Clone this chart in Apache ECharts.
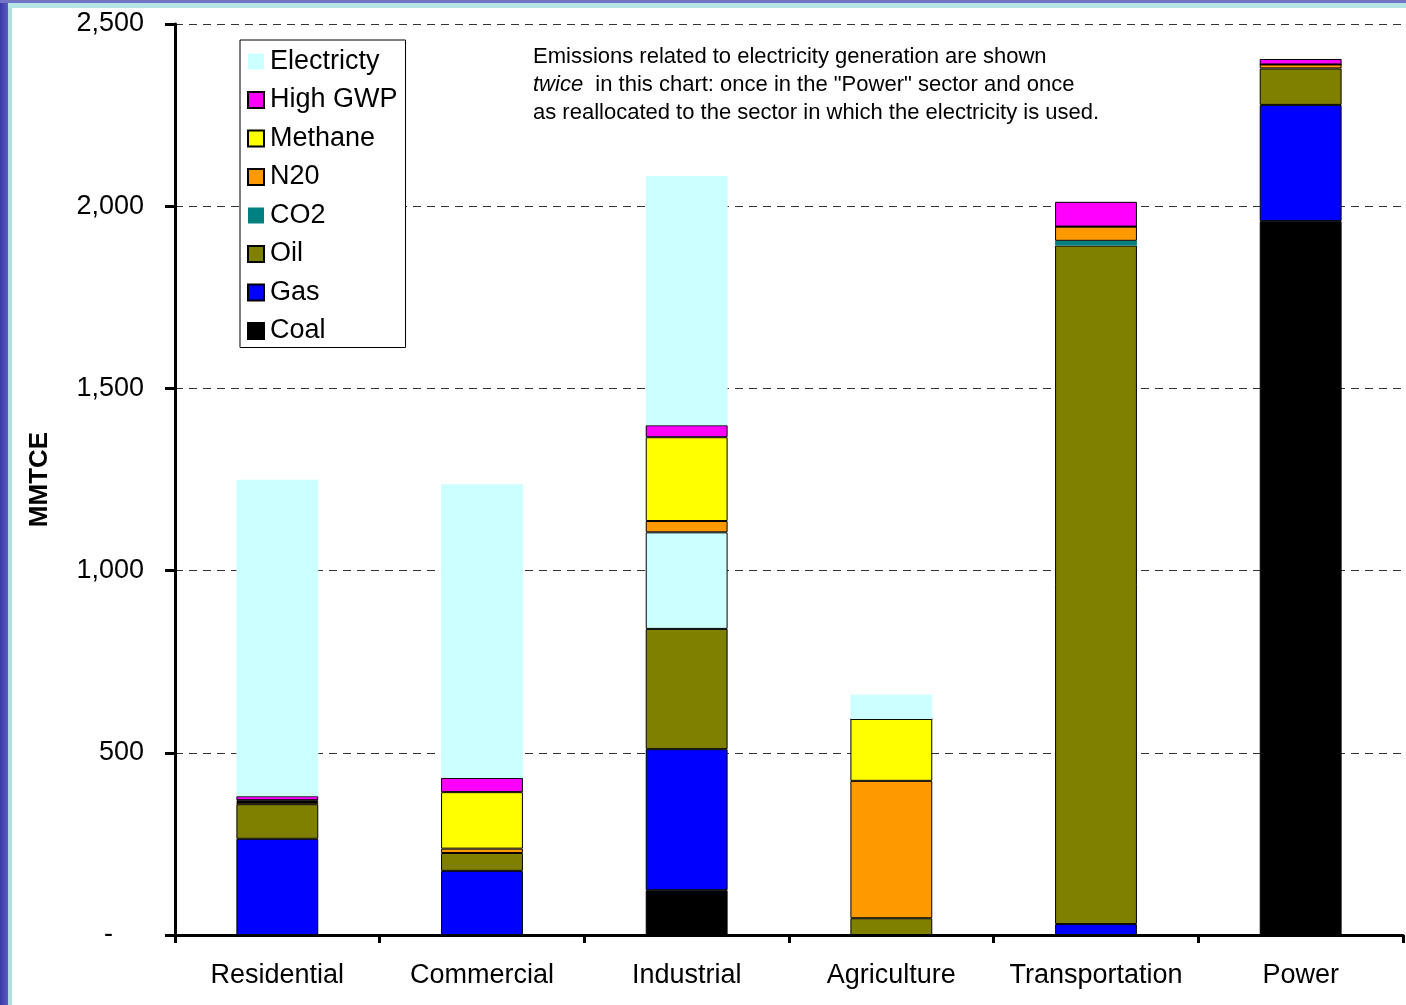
<!DOCTYPE html>
<html>
<head>
<meta charset="utf-8">
<script src="https://cdn.jsdelivr.net/npm/echarts@6/dist/echarts.min.js"></script>
<style>
html,body{margin:0;padding:0;background:#fff;}
#deco-l{position:absolute;left:0;top:0;width:8px;height:1005px;background:linear-gradient(90deg,#3a3aa8,#5a5ac0);}
#deco-l2{position:absolute;left:8px;top:0;width:4px;height:1005px;background:#aee0e0;}
#deco-t{position:absolute;left:0;top:0;width:1406px;height:3px;background:#7474c4;}
#deco-t2{position:absolute;left:8px;top:3px;width:1398px;height:5px;background:#b4e4e4;}
#chart{position:absolute;left:0;top:0;width:1406px;height:1005px;}
</style>
</head>
<body>
<div id="deco-l"></div><div id="deco-l2"></div><div id="deco-t"></div><div id="deco-t2"></div>
<div id="chart"></div>
<script>
var categories = ['Residential','Commercial','Industrial','Agriculture','Transportation','Power'];
var coal     = [0,     0,     123,  0,    0,    1959];
var gas      = [264,   176,   387,  0,    30,   319];
var oil      = [95,    49,    330,  46,   1862, 100];
var co2      = [0,     0,     265,  0,    13,   0];
var n20      = [6,     12,    31,   377,  39,   11];
var methane  = [5,     155,   230,  170,  0,    0];
var highGwp  = [11,    39,    33,   0,    68,   15];
var electricity = [868, 806,  684,  66,   0,    0];
var yTicks = [0, 500, 1000, 1500, 2000, 2500];

var FONT = '"Liberation Sans", Arial, sans-serif';
function mk(name, data, color, withBorder, overrides){
  var d = data.map(function(v,i){
    if (overrides && overrides[i]) return {value:v, itemStyle:overrides[i]};
    return v;
  });
  return {
    name:name, type:'bar', stack:'s', data:d, barCategoryGap:'60%',
    itemStyle: withBorder ? {color:color, borderColor:'#000', borderWidth:1} : {color:color, borderWidth:0},
    emphasis:{disabled:true}
  };
}
var series = [
  mk('Coal', coal, '#000000', true),
  mk('Gas', gas, '#0000ff', true),
  mk('Oil', oil, '#808000', true),
  mk('CO2', co2, '#008080', false, {2:{color:'#ccffff', borderColor:'#000', borderWidth:1}}),
  mk('N20', n20, '#ff9900', true),
  mk('Methane', methane, '#ffff00', true),
  mk('High GWP', highGwp, '#ff00ff', true),
  mk('Electricty', electricity, '#ccffff', false)
];

var chart = echarts.init(document.getElementById('chart'), null, {renderer:'canvas'});
chart.setOption({
  animation:false,
  backgroundColor:'transparent',
  textStyle:{fontFamily:FONT},
  grid:{left:175, right:3, top:24, bottom:70, containLabel:false},
  legend:{
    orient:'vertical', left:240, top:40,
    data:['Electricty','High GWP','Methane','N20','CO2','Oil','Gas','Coal'],
    icon:'rect', itemWidth:16, itemHeight:16, itemGap:11.5,
    padding:[8,8,3,7],
    borderColor:'#000', borderWidth:1, backgroundColor:'#fff',
    textStyle:{fontSize:27, color:'#000', fontFamily:FONT, lineHeight:26, padding:[0,0,0,1]},
    selectedMode:false
  },
  xAxis:{
    type:'category', data:categories,
    axisLine:{lineStyle:{color:'#000', width:3}},
    axisTick:{show:true, length:8, lineStyle:{color:'#000', width:3}},
    axisLabel:{fontSize:27, color:'#000', margin:27, fontFamily:FONT, interval:0},
    splitLine:{show:false}
  },
  yAxis:{
    type:'value', min:yTicks[0], max:yTicks[yTicks.length-1], interval:500,
    name:'MMTCE', nameLocation:'middle', nameGap:122,
    nameTextStyle:{fontSize:26, fontWeight:'bold', color:'#000', fontFamily:FONT},
    axisLine:{show:true, lineStyle:{color:'#000', width:3}},
    axisTick:{show:true, length:10, lineStyle:{color:'#000', width:3}},
    axisLabel:{
      fontSize:27, color:'#000', margin:31, fontFamily:FONT,
      formatter:function(v){ return v === 0 ? '{z|-}' : v.toLocaleString('en-US'); },
      rich:{z:{fontSize:27, color:'#000', padding:[0,31,0,0], fontFamily:FONT}}
    },
    splitLine:{show:true, lineStyle:{color:'#333', width:1, type:[8,6]}}
  },
  graphic:[{
    type:'text', left:533, top:43, z:100,
    style:{
      text:'Emissions related to electricity generation are shown\n{i|twice}  in this chart: once in the "Power" sector and once\nas reallocated to the sector in which the electricity is used.',
      font:'22px ' + FONT, fill:'#000', lineHeight:28,
      rich:{i:{fontStyle:'italic', fontSize:22, fontFamily:FONT, fill:'#000', lineHeight:28}}
    }
  }],
  series:series
});
</script>
</body>
</html>
